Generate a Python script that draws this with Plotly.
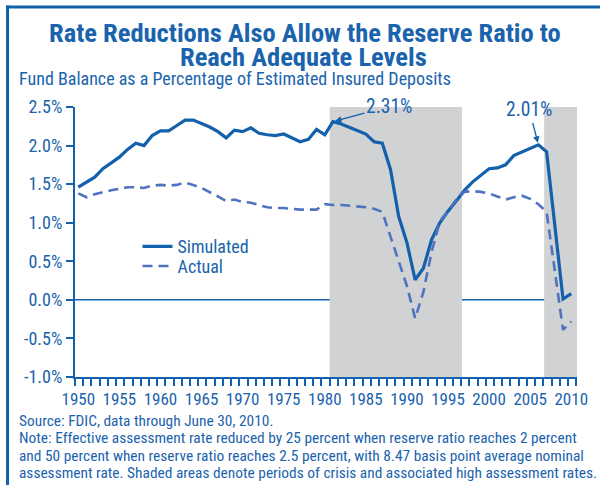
import plotly.graph_objects as go

# Reserve ratio, % of estimated insured deposits
years = list(range(1950, 2011))

simulated = [
    1.46, 1.52, 1.59, 1.70, 1.77, 1.85, 1.95, 2.03, 2.00, 2.13,
    2.19, 2.19, 2.26, 2.33, 2.33, 2.29, 2.24, 2.18, 2.10, 2.20,
    2.18, 2.23, 2.16, 2.14, 2.13, 2.15, 2.10, 2.05, 2.08, 2.21,
    2.14, 2.31, 2.28, 2.24, 2.20, 2.15, 2.05, 2.03, 1.69, 1.08,
    0.74, 0.26, 0.41, 0.78, 1.00, 1.15, 1.28, 1.42, 1.53, 1.62,
    1.70, 1.71, 1.75, 1.87, 1.92, 1.96, 2.01, 1.92, 0.97, 0.01,
    0.08,
]

actual = [
    1.38, 1.33, 1.37, 1.40, 1.42, 1.44, 1.46, 1.46, 1.45, 1.48,
    1.49, 1.48, 1.49, 1.52, 1.49, 1.45, 1.40, 1.34, 1.28, 1.30,
    1.27, 1.26, 1.23, 1.20, 1.19, 1.19, 1.18, 1.17, 1.17, 1.17,
    1.24, 1.23, 1.23, 1.22, 1.21, 1.20, 1.18, 1.14, 0.82, 0.50,
    0.18, -0.24, 0.10, 0.62, 1.02, 1.15, 1.30, 1.40, 1.41, 1.40,
    1.38, 1.34, 1.30, 1.33, 1.35, 1.31, 1.24, 1.14, 0.36, -0.39,
    -0.28,
]

crisis_periods = [(1980.6, 1996.7), (2006.7, 2010.7)]
peak_labels = [(1981, 2.31, "2.31%"), (2006, 2.01, "2.01%")]

y_ticks = [-1.0, -0.5, 0.0, 0.5, 1.0, 1.5, 2.0, 2.5]

title_lines = ["Rate Reductions Also Allow the Reserve Ratio to", "Reach Adequate Levels"]
subtitle = "Fund Balance as a Percentage of Estimated Insured Deposits"
notes = [
    "Source: FDIC, data through June 30, 2010.",
    "Note: Effective assessment rate reduced by 25 percent when reserve ratio reaches 2 percent",
    "and 50 percent when reserve ratio reaches 2.5 percent, with 8.47 basis point average nominal",
    "assessment rate. Shaded areas denote periods of crisis and associated high assessment rates.",
]

BLUE = "#1360ab"
DASH_BLUE = "#4f74bf"
TEXT_BLUE = "#1a63ad"
GRAY = "#d1d2d4"
FONT = "Liberation Sans Narrow, Roboto Condensed, Arial Narrow, sans-serif"

W, H = 600, 485
L, R, T, B = 75, 19, 107, 108
PW, PH = W - L - R, H - T - B


def px(x):
    return (x - L) / PW


def py(y):
    return (H - B - y) / PH


fig = go.Figure()
fig.add_trace(go.Scatter(
    x=years, y=simulated, mode="lines", name="Simulated",
    line=dict(color=BLUE, width=3.2), legend="legend", showlegend=True,
))
fig.add_trace(go.Scatter(
    x=years, y=actual, mode="lines", name="Actual",
    line=dict(color=DASH_BLUE, width=2.6, dash="10px,6px"), legend="legend2",
    showlegend=True,
))

for x0, x1 in crisis_periods:
    fig.add_shape(type="rect", x0=x0, x1=x1, y0=-1.0, y1=2.5,
                  fillcolor=GRAY, line_width=0, layer="below")
fig.add_shape(type="line", xref="paper", x0=0, x1=1, y0=0, y1=0,
              line=dict(color=BLUE, width=1.5), layer="below")

# frame of the panel (left and top edges)
fig.add_shape(type="line", xref="paper", yref="paper",
              x0=px(7), x1=px(7), y0=py(490), y1=py(5.5),
              line=dict(color=BLUE, width=3))
fig.add_shape(type="line", xref="paper", yref="paper",
              x0=px(5.5), x1=px(605), y0=py(7), y1=py(7),
              line=dict(color=BLUE, width=3))

annotations = []
for (cx, cy), line in zip([(307, 32), (305, 56)], title_lines):
    annotations.append(dict(
        x=px(cx), y=py(cy), xref="paper", yref="paper",
        xanchor="center", yanchor="middle", text=f"<b>{line}</b>",
        showarrow=False, font=dict(size=26.5, color=TEXT_BLUE),
    ))
annotations.append(dict(
    x=px(17), y=py(78), xref="paper", yref="paper", xanchor="left", yanchor="middle",
    text=subtitle, showarrow=False, font=dict(size=18, color=TEXT_BLUE),
))
offsets = {1981: (56, -15), 2006: (-9, -35)}
for yr, val, txt in peak_labels:
    ax, ay = offsets[yr]
    annotations.append(dict(
        x=yr, y=val, text=txt, showarrow=True, ax=ax, ay=ay,
        arrowhead=2, arrowsize=1, arrowwidth=1.3, arrowcolor=BLUE,
        font=dict(size=19.5, color=TEXT_BLUE), standoff=2,
    ))
for i, line in enumerate(notes):
    annotations.append(dict(
        x=px(17), y=py(421 + i * 17.4), xref="paper", yref="paper",
        xanchor="left", yanchor="middle", text=line, showarrow=False,
        font=dict(size=15.4, color=TEXT_BLUE),
    ))

legend_style = dict(
    xanchor="left", yanchor="middle", bgcolor="rgba(0,0,0,0)",
    font=dict(size=18, color=TEXT_BLUE), itemwidth=30,
)

fig.update_layout(
    width=W, height=H,
    margin=dict(l=L, r=R, t=T, b=B),
    paper_bgcolor="white", plot_bgcolor="white",
    font=dict(family=FONT, color=TEXT_BLUE),
    showlegend=True,
    xaxis=dict(
        range=[1949.6, 2010.7], showgrid=False, zeroline=False,
        showline=True, linecolor=BLUE, linewidth=2,
        tickmode="linear", tick0=1950, dtick=5, ticks="",
        ticklabelstandoff=6,
        tickfont=dict(size=17, color=TEXT_BLUE),
        minor=dict(ticks="outside", ticklen=7, tickcolor=BLUE, tickwidth=1.5,
                   tick0=1949.6, dtick=1, showgrid=False),
    ),
    yaxis=dict(
        range=[-1.0, 2.5], showgrid=False, zeroline=False,
        showline=True, linecolor=BLUE, linewidth=2,
        tickmode="array", tickvals=y_ticks,
        ticktext=[f"{v:.1f}%" for v in y_ticks],
        ticks="outside", ticklen=7, tickcolor=BLUE, tickwidth=1.5,
        tickfont=dict(size=18, color=TEXT_BLUE),
    ),
    legend=dict(x=px(138), y=py(246.7), **legend_style),
    legend2=dict(x=px(138), y=py(266.3), **legend_style),
    annotations=annotations,
)

fig.write_html("out.html", config={"displayModeBar": False},
               post_script="document.body.style.margin='0px';")
